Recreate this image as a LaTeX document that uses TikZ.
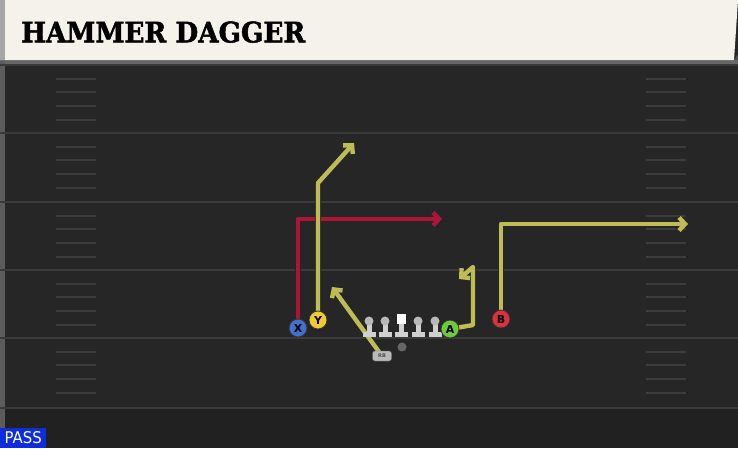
\documentclass[tikz,border=0pt]{standalone}
\usepackage{fontspec}
\setmainfont{DejaVu Serif}
\setsansfont{DejaVu Sans}
\newfontfamily\titlefont[FakeBold=1.8]{DejaVu Serif Bold}
\usetikzlibrary{arrows.meta}
\definecolor{fieldbg}{HTML}{262626}
\definecolor{fieldline}{HTML}{3A3A3A}
\definecolor{hashc}{HTML}{3C3C3C}
\definecolor{headerc}{HTML}{F5F2EC}
\definecolor{routey}{HTML}{BEBD55}
\definecolor{router}{HTML}{AC1538}
\definecolor{pblue}{HTML}{4070D0}
\definecolor{pyellow}{HTML}{F2C935}
\definecolor{pgreen}{HTML}{6CCB3C}
\definecolor{pred}{HTML}{DE3040}
\definecolor{passblue}{HTML}{0F2DDC}
\definecolor{linec}{HTML}{D0D0D0}
\pgfdeclarelayer{field}
\pgfdeclarelayer{routes}
\pgfsetlayers{field,routes,main}
\tikzset{
  player/.style={circle, draw=black!80, line width=0.8pt, minimum size=18pt, inner sep=0pt,
    font=\sffamily\bfseries\fontsize{11}{11}\selectfont, text=black},
  route/.style={line width=4.4pt, line join=round, line cap=round,
    -{Straight Barb[length=6pt,width=13pt]},
    preaction={draw=black!85, line width=6.4pt}},
  yroute/.style={route, draw=routey},
  rroute/.style={route, draw=router},
  yardline/.style={draw=fieldline, line width=2pt},
  hashmark/.style={draw=hashc, line width=1.6pt},
  lhead/.style={circle, fill=linec!70!gray, inner sep=0pt, minimum size=9pt},
  lbody/.style={fill=linec},
}
\begin{document}
\begin{tikzpicture}[x=1pt,y=-1pt]
\useasboundingbox (0,0) rectangle (738,448);
\begin{pgfonlayer}{field}
  \fill[fieldbg] (0,0) rectangle (738,448);
  \fill[black, opacity=0.12] (0,408) rectangle (738,448);
  \fill[black!60] (0,60) rectangle (738,64);
  \fill[gray!60!fieldbg] (0,60) rectangle (5,448);
  % header
  \fill[headerc] (0,0) -- (738,0) -- (734,60) -- (0,60) -- cycle;
  \fill[gray!70] (0,0) rectangle (5,60);
  \fill[black!70] (734,60) -- (738,54) -- (738,60) -- cycle;
  % yard lines
  \foreach \y in {65,133,202,270,338,408} {
    \draw[yardline] (0,\y) -- (738,\y);
  }
  % hash marks
  \foreach \b in {65,133,202,270,338} {
    \foreach \o in {14,27,41,55} {
      \draw[hashmark] (56,\b+\o) -- (96,\b+\o);
      \draw[hashmark] (646,\b+\o) -- (686,\b+\o);
    }
  }
\end{pgfonlayer}

\node[anchor=south west, inner sep=0pt] (title) at (21,43)
  {\resizebox{284pt}{21pt}{\titlefont HAMMER DAGGER}};

\node[anchor=south west, fill=passblue, minimum width=46pt, minimum height=20pt, inner sep=0pt] (pass) at (0,448) {};
\node[text=white, inner sep=0pt] (passtext) at (pass.center)
  {\resizebox{37pt}{12pt}{\sffamily PASS}};

% linemen
\foreach \x/\n in {369/lt,385/lg,418/rg,435/rt} {
  \fill[lbody] (\x-2.5,321) rectangle (\x+2.5,333);
  \fill[lbody] (\x-6.5,332) rectangle (\x+6.5,337);
  \node[lhead] (\n) at (\x,321) {};
}
\fill[lbody] (398.5,322) rectangle (403.5,333);
\fill[lbody] (394.5,332) rectangle (407.5,337);
\node[fill=white, minimum width=9pt, minimum height=10pt, inner sep=0pt] (center) at (401,319) {};
\node[circle, fill=gray!80!black, minimum size=9pt, inner sep=0pt] (ball) at (402,347) {};
\node[fill=gray!55, draw=black!60, line width=0.4pt, rounded corners=2.5pt, minimum width=19pt, minimum height=10pt, inner sep=0pt,
  font=\sffamily\bfseries\fontsize{5}{5}\selectfont, text=black!70] (RB) at (382,356) {RB};

% players
\node[player, fill=pblue] (X) at (298,328) {X};
\node[player, fill=pyellow] (Y) at (318,320) {Y};
\node[player, fill=pgreen] (A) at (450,329) {A};
\node[player, fill=pred] (B) at (501,319) {B};

% route coordinates
\coordinate (x1) at (298,219);
\coordinate (x2) at (442,219);
\coordinate (y1) at (318,183);
\coordinate (y2) at (354,143);
\coordinate (rb2) at (332,287);
\coordinate (a1) at (473,325);
\coordinate (a2) at (473,267);
\coordinate (a3) at (459,279);
\coordinate (b1) at (501,224);
\coordinate (b2) at (688,224);

\begin{pgfonlayer}{routes}
  \draw[rroute] (X.center) -- (x1) -- (x2);
  \draw[yroute] (Y.center) -- (y1) -- (y2);
  \draw[yroute] (RB.center) -- (rb2);
  \draw[yroute] (A.center) -- (a1) -- (a2) -- (a3);
  \draw[yroute] (B.center) -- (b1) -- (b2);
\end{pgfonlayer}
\end{tikzpicture}
\end{document}
